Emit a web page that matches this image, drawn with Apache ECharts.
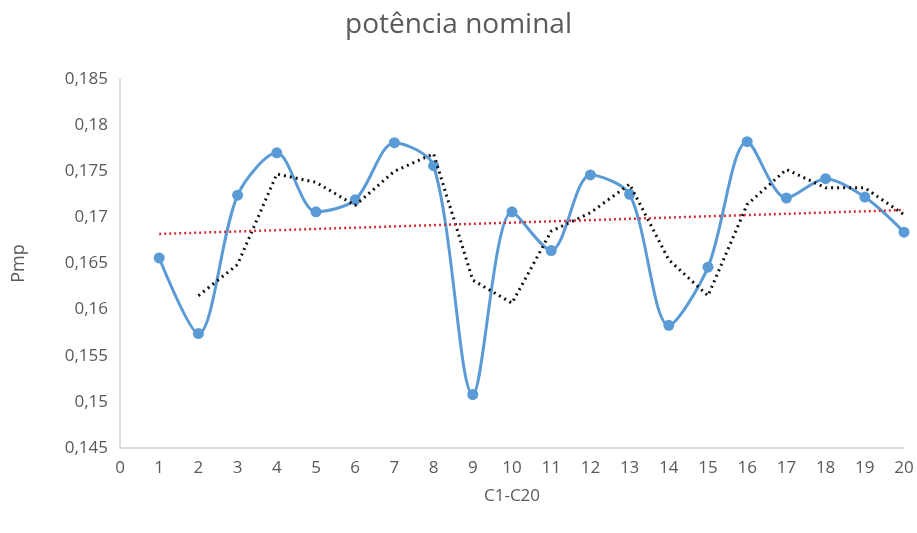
<!DOCTYPE html>
<html>
<head>
<meta charset="utf-8">
<script src="https://cdn.jsdelivr.net/npm/echarts@6/dist/echarts.min.js"></script>
<style>
  html, body { margin: 0; padding: 0; background: #fff; }
  #chart { width: 917px; height: 533px; }
</style>
</head>
<body>
<div id="chart"></div>
<script>
// C1..C20
const cells = [1, 2, 3, 4, 5, 6, 7, 8, 9, 10, 11, 12, 13, 14, 15, 16, 17, 18, 19, 20];
// Pmp
const pmp = [0.1656, 0.1574, 0.1724, 0.1770, 0.1706, 0.1719, 0.1781, 0.1756, 0.1508, 0.1706,
             0.1664, 0.1746, 0.1725, 0.1583, 0.1646, 0.1782, 0.1721, 0.1742, 0.1722, 0.1684];
// média móvel (2 períodos), a partir de C2
const movAvgX = [2, 3, 4, 5, 6, 7, 8, 9, 10, 11, 12, 13, 14, 15, 16, 17, 18, 19, 20];
const movAvg = [0.1615, 0.1649, 0.1747, 0.1738, 0.1713, 0.1750, 0.1769, 0.1632, 0.1607, 0.1685,
                0.1705, 0.1736, 0.1654, 0.1615, 0.1714, 0.1752, 0.1732, 0.1732, 0.1703];
// linha de tendência linear (extremos)
const trendX = [1, 20];
const trend = [0.1682, 0.1708];

const fmt = v => String(+v.toFixed(3)).replace('.', ',');
const font = '"Open Sans", "Noto Sans", sans-serif';

let myChart = echarts.init(document.getElementById('chart'));
let option = {
  animation: false,
  title: {
    text: 'potência nominal',
    left: 'center',
    top: 6,
    textStyle: { color: '#595959', fontSize: 28, fontWeight: 'normal', fontFamily: font }
  },
  grid: { left: 120, right: 13, top: 79, bottom: 85 },
  xAxis: {
    type: 'value',
    min: 0,
    max: 20,
    interval: 1,
    name: 'C1-C20',
    nameLocation: 'middle',
    nameGap: 40,
    nameTextStyle: { color: '#595959', fontSize: 17, fontFamily: font },
    axisLine: { show: true, lineStyle: { color: '#d0d0d0', width: 1.5 } },
    axisTick: { show: false },
    splitLine: { show: false },
    axisLabel: { color: '#595959', fontSize: 17, fontFamily: font, margin: 12 }
  },
  yAxis: {
    type: 'value',
    min: 0.145,
    max: 0.185,
    interval: 0.005,
    name: 'Pmp',
    nameLocation: 'middle',
    nameGap: 92,
    nameTextStyle: { color: '#595959', fontSize: 18, fontFamily: font },
    axisLine: { show: true, lineStyle: { color: '#d0d0d0', width: 1.5 } },
    axisTick: { show: false },
    splitLine: { show: false },
    axisLabel: { color: '#595959', fontSize: 17, fontFamily: font, margin: 12, formatter: fmt }
  },
  series: [
    {
      name: 'Pmp',
      type: 'line',
      data: cells.map((c, i) => [c, pmp[i]]),
      smooth: 0.3,
      symbol: 'circle',
      symbolSize: 11,
      lineStyle: { color: '#5b9bd5', width: 3 },
      itemStyle: { color: '#5b9bd5' },
      z: 2
    },
    {
      name: 'média móvel',
      type: 'line',
      data: movAvgX.map((c, i) => [c, movAvg[i]]),
      showSymbol: false,
      lineStyle: { color: '#111', width: 3, type: [2, 4] },
      z: 3
    },
    {
      name: 'tendência',
      type: 'line',
      data: trendX.map((c, i) => [c, trend[i]]),
      showSymbol: false,
      lineStyle: { color: '#d8303a', width: 2.5, type: [2, 3] },
      z: 3
    }
  ]
};
myChart.setOption(option);
</script>
</body>
</html>
